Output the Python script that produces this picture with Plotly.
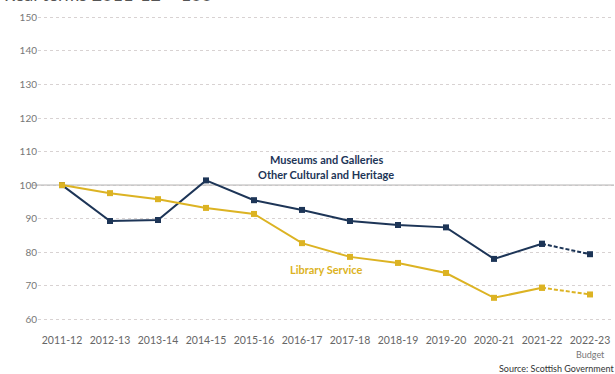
import plotly.graph_objects as go

years = ["2011-12", "2012-13", "2013-14", "2014-15", "2015-16", "2016-17",
         "2017-18", "2018-19", "2019-20", "2020-21", "2021-22", "2022-23"]
museums = [100, 89.3, 89.6, 101.4, 95.5, 92.6, 89.3, 88.1, 87.4, 78.0, 82.5, 79.4]
library = [100, 97.6, 95.8, 93.2, 91.4, 82.7, 78.6, 76.8, 73.8, 66.4, 69.4, 67.4]
y_ticks = [60, 70, 80, 90, 100, 110, 120, 130, 140, 150]

NAVY = "#1d3557"
GOLD = "#dcb323"
FONT = "Lato"

fig = go.Figure()
for vals, col in [(museums, NAVY), (library, GOLD)]:
    fig.add_trace(go.Scatter(x=years[:-1], y=vals[:-1], mode="lines+markers",
                             line=dict(color=col, width=2),
                             marker=dict(symbol="square", size=6, color=col),
                             showlegend=False))
    fig.add_trace(go.Scatter(x=years[-2:], y=vals[-2:], mode="lines+markers",
                             line=dict(color=col, width=2, dash="4px,2px"),
                             marker=dict(symbol="square", size=6, color=col),
                             showlegend=False))

fig.add_shape(type="line", xref="paper", yref="y", x0=-0.01, x1=1, y0=100, y1=100,
              line=dict(color="#b5b5b5", width=1.2), layer="below")

fig.update_layout(
    width=615, height=374,
    margin=dict(l=38, r=1, t=14, b=48),
    paper_bgcolor="white", plot_bgcolor="white",
    font=dict(family=FONT, color="#666666", size=10),
    xaxis=dict(type="category", range=[-0.5, 11.5], showgrid=False, zeroline=False,
               showline=False, ticks="", ticklabelstandoff=6,
               tickfont=dict(size=10.5, color="#666666")),
    yaxis=dict(range=[58, 151], tickvals=y_ticks, showgrid=True, gridcolor="#d8d2d2",
               griddash="dot", gridwidth=1, zeroline=False, showline=False, ticks="",
               tickfont=dict(size=10, color="#777777")),
    annotations=[
        dict(text="Real terms 2011-12 = 100", xref="paper", yref="paper", x=-0.062, y=1.022,
             xanchor="left", yanchor="bottom", showarrow=False,
             font=dict(size=18, color="#555555", family=FONT)),
        dict(text="<b>Museums and Galleries</b>", xref="x", yref="y", x=5.5, y=107.6,
             showarrow=False, font=dict(size=11, color=NAVY, family=FONT)),
        dict(text="<b>Other Cultural and Heritage</b>", xref="x", yref="y", x=5.5, y=103.1,
             showarrow=False, font=dict(size=11, color=NAVY, family=FONT)),
        dict(text="<b>Library Service</b>", xref="x", yref="y", x=5.5, y=74.9,
             showarrow=False, font=dict(size=11, color=GOLD, family=FONT)),
        dict(text="Budget", xref="x", yref="paper", x=11, y=-0.092, yanchor="middle",
             showarrow=False, font=dict(size=9, color="#777777", family=FONT)),
        dict(text="Source: Scottish Government", xref="paper", yref="paper", x=1.003, y=-0.135,
             xanchor="right", yanchor="middle", showarrow=False,
             font=dict(size=9, color="#333333", family=FONT)),
    ],
)

fig.write_html("out.html")
